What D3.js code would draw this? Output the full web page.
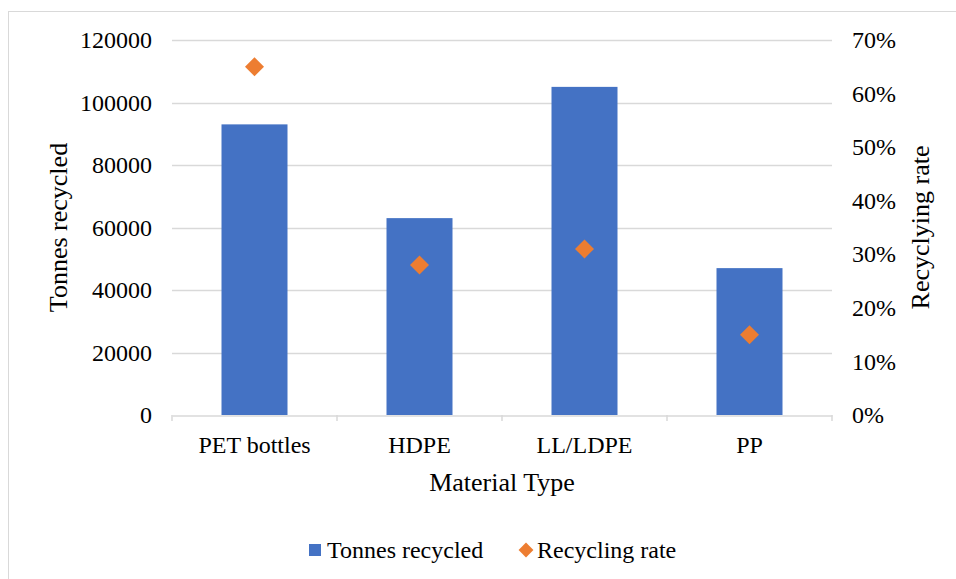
<!DOCTYPE html>
<html>
<head>
<meta charset="utf-8">
<script src="https://cdn.jsdelivr.net/npm/d3@7/dist/d3.min.js"></script>
<style>
  html, body { margin: 0; padding: 0; background: #fff; }
  svg { display: block; }
  text { font-family: "Liberation Serif", "Times New Roman", serif; fill: #000; }
</style>
</head>
<body>
<svg id="chart" width="956" height="579"></svg>
<script>
// Plastic recycling by material type
const categories = ["PET bottles", "HDPE", "LL/LDPE", "PP"];
const tonnesRecycled = [93000, 63000, 105000, 47000];
const recyclingRate = [0.65, 0.28, 0.31, 0.15];
const leftTicks = [0, 20000, 40000, 60000, 80000, 100000, 120000];
const rightTicks = [0, 0.1, 0.2, 0.3, 0.4, 0.5, 0.6, 0.7];
const seriesNames = ["Tonnes recycled", "Recycling rate"];

const barColor = "#4472C4";
const markerColor = "#ED7D31";
const gridColor = "#d9d9d9";
const fontSize = 24;
const titleSize = 26;

const svg = d3.select("#chart");
const plot = { left: 172, right: 832, top: 40, bottom: 415 };

// Chart frame
svg.append("rect")
  .attr("x", 8.5).attr("y", 11.5)
  .attr("width", 1000).attr("height", 1000)
  .attr("fill", "none").attr("stroke", gridColor).attr("stroke-width", 1);

const x = d3.scaleBand().domain(categories).range([plot.left, plot.right]).paddingInner(0.6).paddingOuter(0.3);
const xStep = d3.scaleBand().domain(categories).range([plot.left, plot.right]);
const yLeft = d3.scaleLinear().domain([0, 120000]).range([plot.bottom, plot.top]);
const yRight = d3.scaleLinear().domain([0, 0.7]).range([plot.bottom, plot.top]);

// Horizontal gridlines
svg.append("g")
  .selectAll("line")
  .data(leftTicks.filter(d => d > 0))
  .join("line")
  .attr("x1", plot.left).attr("x2", plot.right)
  .attr("y1", d => Math.round(yLeft(d)) + 0.5).attr("y2", d => Math.round(yLeft(d)) + 0.5)
  .attr("stroke", gridColor).attr("stroke-width", 1.5);

// Bars
svg.append("g")
  .selectAll("rect")
  .data(categories)
  .join("rect")
  .attr("x", d => x(d))
  .attr("width", x.bandwidth())
  .attr("y", (d, i) => yLeft(tonnesRecycled[i]))
  .attr("height", (d, i) => plot.bottom - yLeft(tonnesRecycled[i]))
  .attr("fill", barColor);

// Category axis
const xAxis = svg.append("g")
  .attr("transform", `translate(0,${plot.bottom + 0.5})`)
  .call(d3.axisBottom(xStep).tickSize(0).tickPadding(20));
xAxis.select(".domain").attr("stroke", gridColor).attr("stroke-width", 1.5);
xAxis.selectAll("text").style("font-size", fontSize + "px").attr("font-family", null);
// Category separators
svg.append("g")
  .selectAll("line")
  .data(d3.range(categories.length + 1))
  .join("line")
  .attr("x1", i => plot.left + i * xStep.step()).attr("x2", i => plot.left + i * xStep.step())
  .attr("y1", plot.bottom).attr("y2", plot.bottom + 6)
  .attr("stroke", gridColor).attr("stroke-width", 1.5);

// Left axis
const leftAxis = svg.append("g")
  .attr("transform", `translate(${plot.left},0)`)
  .call(d3.axisLeft(yLeft).tickValues(leftTicks).tickSize(0).tickPadding(20).tickFormat(d3.format("d")));
leftAxis.select(".domain").remove();
leftAxis.selectAll("text").style("font-size", fontSize + "px").attr("font-family", null);

// Right axis
const rightAxis = svg.append("g")
  .attr("transform", `translate(${plot.right},0)`)
  .call(d3.axisRight(yRight).tickValues(rightTicks).tickSize(0).tickPadding(20).tickFormat(d3.format(".0%")));
rightAxis.select(".domain").remove();
rightAxis.selectAll("text").style("font-size", fontSize + "px").attr("font-family", null);

// Recycling rate markers
const diamond = d3.symbol().type(d3.symbolSquare).size(180);
svg.append("g")
  .selectAll("path")
  .data(categories)
  .join("path")
  .attr("d", diamond)
  .attr("transform", (d, i) => `translate(${xStep(d) + xStep.bandwidth() / 2},${yRight(recyclingRate[i])}) rotate(45)`)
  .attr("fill", markerColor);

// Axis titles
svg.append("text")
  .attr("transform", `translate(67,${(plot.top + plot.bottom) / 2}) rotate(-90)`)
  .attr("text-anchor", "middle")
  .style("font-size", titleSize + "px")
  .text("Tonnes recycled");
svg.append("text")
  .attr("transform", `translate(929,${(plot.top + plot.bottom) / 2}) rotate(-90)`)
  .attr("text-anchor", "middle")
  .style("font-size", titleSize + "px")
  .text("Recyclying rate");
svg.append("text")
  .attr("x", (plot.left + plot.right) / 2).attr("y", 491)
  .attr("text-anchor", "middle")
  .style("font-size", titleSize + "px")
  .text("Material Type");

// Legend
const legend = svg.append("g").attr("transform", "translate(0,550)");
legend.append("rect").attr("x", 309).attr("y", -6).attr("width", 12).attr("height", 12).attr("fill", barColor);
legend.append("text").attr("x", 327).attr("y", 8).style("font-size", fontSize + "px").text(seriesNames[0]);
legend.append("path")
  .attr("d", d3.symbol().type(d3.symbolSquare).size(110))
  .attr("transform", "translate(526,0) rotate(45)")
  .attr("fill", markerColor);
legend.append("text").attr("x", 537).attr("y", 8).style("font-size", fontSize + "px").text(seriesNames[1]);
</script>
</body>
</html>
